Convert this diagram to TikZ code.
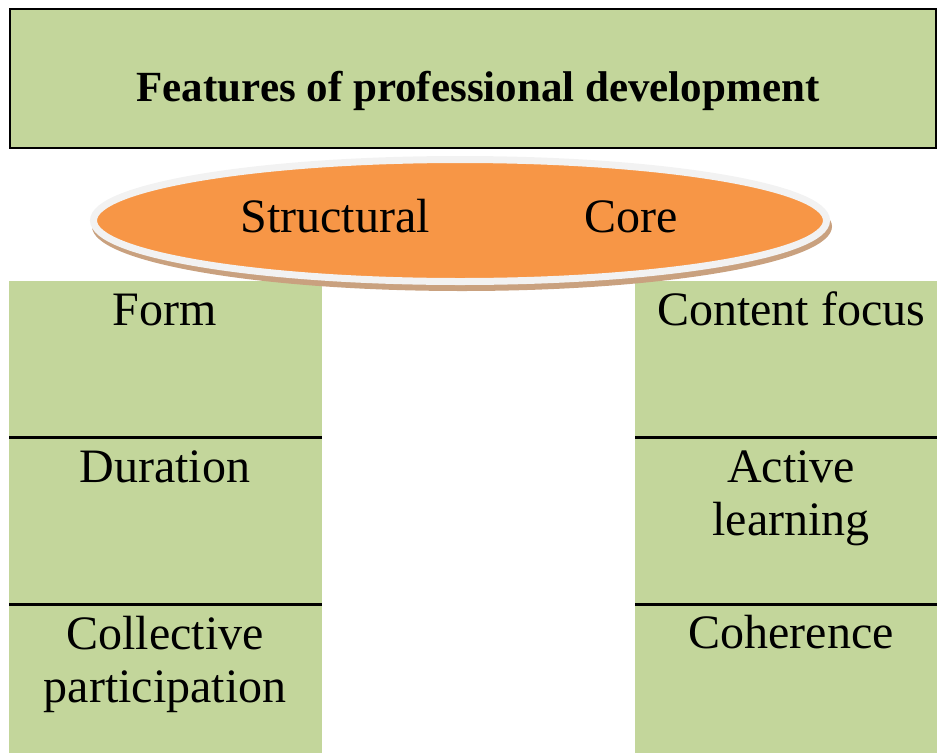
\documentclass[tikz,border=0pt]{standalone}
\usepackage{fontspec}
\setmainfont{Liberation Serif}
\usetikzlibrary{shapes.geometric}
\definecolor{cellgreen}{HTML}{C3D69B}
\definecolor{ovalorange}{HTML}{F79646}
\definecolor{ovalrim}{HTML}{F2F2F2}
\definecolor{ovalshade}{HTML}{C9A17F}
\tikzset{
  cell/.style={rectangle, fill=cellgreen, draw=none, anchor=north west,
    minimum width=313pt, inner sep=0pt},
  rcell/.style={cell, minimum width=302pt},
  lbl/.style={inner sep=0pt, anchor=base, align=center,
    font=\fontsize{48}{53}\selectfont},
  divider/.style={line width=2.2pt, black},
}
\begin{document}
\begin{tikzpicture}[x=1pt, y=-1pt]
\useasboundingbox (0,0) rectangle (937,753);

% title bar
\node[rectangle, fill=cellgreen, draw=black, line width=2.2pt,
  minimum width=926pt, minimum height=139pt, anchor=north west, inner sep=0pt]
  (title) at (9,8) {};
\node[inner sep=0pt, anchor=base, font=\fontsize{43}{48}\selectfont\bfseries]
  (titletext) at (478,101) {Features of professional development};

% left column: structural features
\node[cell, minimum height=156pt] (form) at (9,281) {};
\node[cell, minimum height=167pt] (duration) at (9,437) {};
\node[cell, minimum height=149pt] (collective) at (9,604) {};
\draw[divider] (form.south west) -- (form.south east);
\draw[divider] (duration.south west) -- (duration.south east);
\node[lbl] (formt) at (165,325) {Form};
\node[lbl] (durationt) at (165,482) {Duration};
% multi-line labels sit on the baseline of their last line
\node[lbl] (collectivet) at (165,702) {Collective\\participation};

% right column: core features
\node[rcell, minimum height=156pt] (content) at (635,281) {};
\node[rcell, minimum height=167pt] (active) at (635,437) {};
\node[rcell, minimum height=149pt] (coherence) at (635,604) {};
\draw[divider] (content.south west) -- (content.south east);
\draw[divider] (active.south west) -- (active.south east);
\node[lbl] (contentt) at (791,325) {Content focus};
\node[lbl] (activet) at (791,535) {Active\\learning};
\node[lbl] (coherencet) at (791,648) {Coherence};

% oval banner with soft shadow and light rim
\node[ellipse, fill=ovalshade, minimum width=740pt, minimum height=129pt,
  inner sep=0pt] (ovalshadow) at (462,226.5) {};
\node[ellipse, fill=ovalorange, draw=ovalrim, line width=7pt,
  minimum width=733pt, minimum height=122pt, inner sep=0pt] (oval) at (460,220.5) {};
\node[lbl] (structural) at (335,232) {Structural};
\node[lbl] (core) at (631,232) {Core};
\end{tikzpicture}
\end{document}
